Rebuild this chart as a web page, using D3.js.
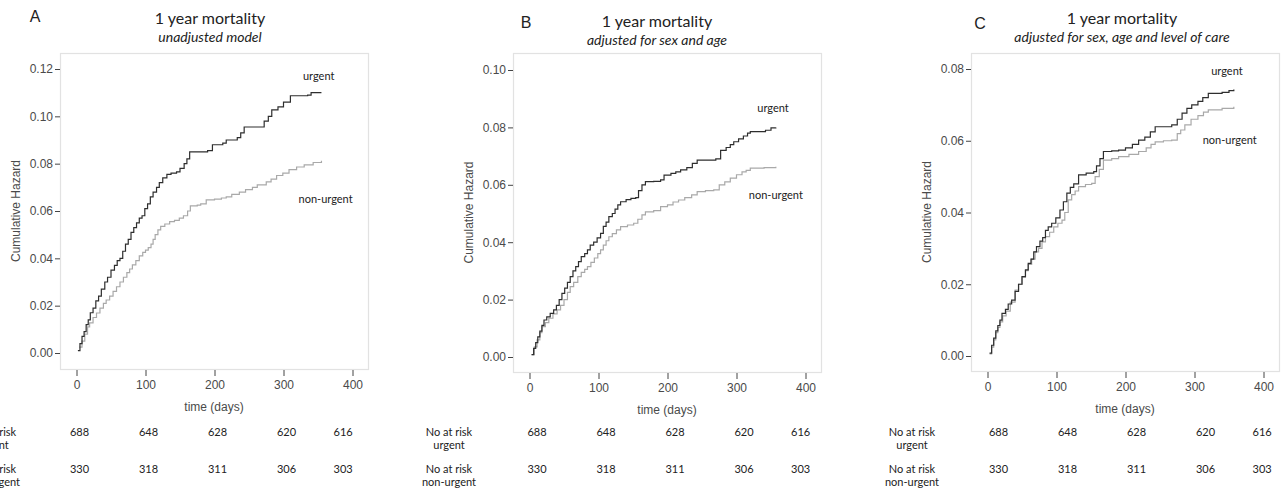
<!DOCTYPE html>
<html lang="en"><head>
<meta charset="utf-8">
<title>1 year mortality</title>
<script src="https://cdnjs.cloudflare.com/ajax/libs/d3/7.8.5/d3.min.js"></script>
<style>
  body { margin: 0; background: #fff; }
  .tick text { font-family: "Liberation Sans", Arial, sans-serif; font-size: 12px; fill: #4a4a4a; }
  .tick line { stroke: #444; }
  .cal { font-family: Lato, "Open Sans", sans-serif; fill: #222; }
</style>
</head>
<body>
<svg id="chart" width="1284" height="491"></svg>
<script>
// ---- data ----
var letters = ["A", "B", "C"];
var titles = ["1 year mortality", "1 year mortality", "1 year mortality"];
var subtitles = ["unadjusted model", "adjusted for sex and age", "adjusted for sex, age and level of care"];
var yMax = [0.12, 0.10, 0.08];
var xTicks = [0, 100, 200, 300, 400];
var riskDays = [0, 100, 200, 300, 382];
var riskUrgent = [688, 648, 628, 620, 616];
var riskNonUrgent = [330, 318, 311, 306, 303];

// cumulative hazard, [day, value]
var aUrgent = [[2,0.001],[5,0.004],[8,0.007],[11,0.009],[14,0.012],[17,0.014],[20,0.017],[24,0.019],[28,0.022],[32,0.024],
  [36,0.027],[41,0.030],[45,0.032],[50,0.035],[55,0.037],[59,0.039],[63,0.040],[67,0.043],[71,0.046],[75,0.048],[79,0.051],
  [83,0.053],[87,0.055],[91,0.057],[95,0.058],[99,0.061],[103,0.063],[107,0.066],[111,0.068],[116,0.070],[120,0.072],
  [125,0.074],[131,0.0755],[137,0.076],[145,0.0765],[150,0.078],[156,0.080],[160,0.082],[164,0.085],[190,0.0855],
  [197,0.088],[212,0.0887],[217,0.090],[233,0.091],[238,0.093],[243,0.0955],[268,0.0955],[272,0.098],[278,0.100],
  [283,0.1027],[292,0.104],[300,0.106],[310,0.1087],[335,0.109],[340,0.110],[355,0.110]];
var aNonUrgent = [[4,0.0025],[8,0.005],[12,0.008],[16,0.011],[19,0.0127],[24,0.015],[29,0.0169],[34,0.019],[39,0.021],
  [43,0.0224],[48,0.024],[53,0.026],[58,0.028],[63,0.030],[68,0.032],[73,0.034],[77,0.0355],[81,0.0372],[86,0.039],
  [91,0.041],[96,0.0425],[100,0.0435],[104,0.0445],[108,0.046],[111,0.048],[114,0.050],[118,0.052],[122,0.0535],
  [128,0.0545],[135,0.0555],[142,0.056],[149,0.057],[155,0.058],[161,0.060],[165,0.0622],[175,0.0625],[180,0.063],
  [188,0.0647],[200,0.065],[210,0.0655],[217,0.066],[225,0.067],[236,0.068],[245,0.069],[255,0.070],[262,0.071],
  [275,0.0723],[282,0.0735],[290,0.075],[299,0.076],[308,0.0775],[319,0.0786],[330,0.0795],[343,0.0805],[355,0.0812]];
var bUrgent = [[3,0.0008],[6,0.003],[9,0.005],[12,0.007],[15,0.009],[18,0.011],[21,0.0129],[25,0.014],[30,0.0152],
  [35,0.0164],[39,0.018],[43,0.020],[47,0.0222],[51,0.024],[55,0.026],[59,0.028],[63,0.030],[67,0.0315],[71,0.0332],
  [75,0.035],[80,0.036],[84,0.0373],[88,0.039],[93,0.040],[98,0.0415],[103,0.0431],[107,0.0455],[111,0.047],[115,0.0489],
  [120,0.050],[124,0.0515],[128,0.053],[132,0.0541],[140,0.0548],[147,0.0553],[154,0.0555],[158,0.058],[163,0.060],
  [168,0.0611],[180,0.0612],[190,0.0617],[195,0.0634],[205,0.064],[212,0.0645],[219,0.0652],[228,0.066],[236,0.0675],
  [243,0.0686],[270,0.069],[277,0.072],[285,0.073],[291,0.074],[296,0.075],[303,0.076],[310,0.077],[316,0.078],
  [320,0.0785],[342,0.079],[350,0.0798],[357,0.0800]];
var bNonUrgent = [[3,0.0008],[7,0.0035],[11,0.006],[15,0.0085],[18,0.0106],[23,0.012],[28,0.0135],[34,0.015],[40,0.0164],
  [45,0.018],[50,0.020],[55,0.0225],[59,0.0245],[64,0.026],[70,0.028],[75,0.0295],[80,0.0305],[84,0.0315],[89,0.033],
  [94,0.0345],[99,0.036],[103,0.0373],[107,0.039],[111,0.0405],[115,0.0419],[120,0.043],[126,0.0443],[132,0.0454],
  [142,0.046],[151,0.0466],[157,0.048],[163,0.0495],[168,0.0506],[180,0.051],[190,0.0524],[200,0.053],[208,0.054],
  [216,0.0547],[225,0.0555],[235,0.0565],[243,0.0576],[255,0.058],[267,0.0582],[275,0.060],[283,0.061],[291,0.0623],
  [300,0.0635],[308,0.0645],[314,0.065],[320,0.0658],[340,0.066],[357,0.0663]];
var cUrgent = [[3,0.0008],[6,0.003],[9,0.005],[12,0.007],[15,0.0085],[18,0.010],[21,0.0119],[26,0.013],[30,0.0145],
  [35,0.0156],[40,0.018],[45,0.020],[50,0.0221],[55,0.024],[59,0.0258],[63,0.027],[67,0.029],[71,0.0305],[76,0.032],
  [80,0.033],[84,0.035],[88,0.036],[93,0.037],[99,0.0385],[105,0.0407],[110,0.043],[115,0.0454],[120,0.047],[125,0.048],
  [132,0.0505],[143,0.051],[154,0.0514],[158,0.053],[163,0.055],[168,0.057],[180,0.0572],[190,0.0574],[200,0.058],
  [210,0.059],[219,0.0602],[228,0.061],[236,0.0625],[243,0.0639],[267,0.0644],[275,0.066],[282,0.0677],[289,0.069],
  [296,0.070],[305,0.071],[312,0.072],[320,0.0732],[340,0.0735],[350,0.074],[357,0.0743]];
var cNonUrgent = [[3,0.0006],[6,0.0025],[9,0.0045],[12,0.0065],[15,0.008],[18,0.0095],[22,0.0112],[27,0.0125],[33,0.015],
  [40,0.0184],[45,0.020],[50,0.022],[55,0.0238],[59,0.0255],[64,0.027],[69,0.029],[74,0.030],[79,0.0318],[84,0.0333],
  [90,0.0345],[96,0.036],[102,0.037],[108,0.0379],[112,0.040],[117,0.0435],[122,0.045],[127,0.046],[132,0.0472],
  [142,0.0478],[151,0.0481],[156,0.050],[162,0.052],[168,0.0546],[180,0.055],[190,0.0556],[205,0.0562],[219,0.057],
  [230,0.058],[237,0.059],[243,0.0597],[255,0.060],[267,0.0602],[275,0.062],[280,0.063],[286,0.0644],[295,0.066],
  [305,0.067],[313,0.068],[320,0.0686],[340,0.069],[357,0.0695]];

var urgentSeries = [aUrgent, bUrgent, cUrgent];
var nonUrgentSeries = [aNonUrgent, bNonUrgent, cNonUrgent];

// ---- layout per panel ----
var layout = [
  {left: 60,  bottom: 369, y0: 353, yTop: 69, titleX: 210,  titleY: 18, letterX: 35,  letterY: 16, riskLabelX: -67, riskShift: 3,
   urgentAt: [351, 0.117], nonUrgentAt: [361, 0.065]},
  {left: 513, bottom: 372, y0: 357, yTop: 70, titleX: 657,  titleY: 21, letterX: 526, letterY: 22, riskLabelX: -64, riskShift: 7.5,
   urgentAt: [353, 0.0868], nonUrgentAt: [357, 0.0564]},
  {left: 971, bottom: 371, y0: 356, yTop: 69, titleX: 1122, titleY: 18, letterX: 980, letterY: 23, riskLabelX: -59, riskShift: 11,
   urgentAt: [347, 0.0795], nonUrgentAt: [351, 0.0602]}
];
var frameTop = 53, frameW = 308;

var svg = d3.select("#chart");

layout.forEach(function(L, i) {
  var g = svg.append("g").attr("transform", "translate(" + L.left + ",0)");
  var x = d3.scaleLinear().domain([0, 400]).range([16.5, 292.5]);
  var y = d3.scaleLinear().domain([0, yMax[i]]).range([L.y0, L.yTop]);

  // frame
  g.append("rect")
    .attr("x", 0.5).attr("y", frameTop + 0.5)
    .attr("width", frameW).attr("height", L.bottom - frameTop)
    .attr("fill", "none").attr("stroke", "#e2e2e2").attr("stroke-width", 1.2);

  // y axis
  var ya = g.append("g")
    .call(d3.axisLeft(y).tickValues(d3.range(0, yMax[i] + 1e-9, 0.02)).tickFormat(d3.format(".2f")).tickSize(5).tickPadding(2));
  ya.select(".domain").remove();

  // x axis, ticks hang below the frame
  var xa = g.append("g").attr("transform", "translate(0," + (L.bottom + 1) + ")")
    .call(d3.axisBottom(x).tickValues(xTicks).tickSize(6).tickPadding(4));
  xa.select(".domain").remove();

  g.append("text")
    .attr("x", frameW / 2).attr("y", L.bottom + 42)
    .attr("text-anchor", "middle")
    .style("font-family", "'Liberation Sans', Arial, sans-serif").style("font-size", "12px").style("fill", "#4a4a4a")
    .text("time (days)");

  g.append("text")
    .attr("transform", "translate(-40," + ((frameTop + L.bottom) / 2) + ") rotate(-90)")
    .attr("text-anchor", "middle")
    .style("font-family", "'Liberation Sans', Arial, sans-serif").style("font-size", "12px").style("fill", "#4a4a4a")
    .text("Cumulative Hazard");

  // curves
  var line = d3.line().curve(d3.curveStepAfter)
    .x(function(d) { return x(d[0]); })
    .y(function(d) { return y(d[1]); });

  g.append("path").datum(nonUrgentSeries[i])
    .attr("d", line).attr("fill", "none").attr("stroke", "#a9a9a9").attr("stroke-width", 1.2);
  g.append("path").datum(urgentSeries[i])
    .attr("d", line).attr("fill", "none").attr("stroke", "#2e2e2e").attr("stroke-width", 1.2);

  g.append("text").attr("class", "cal")
    .attr("x", x(L.urgentAt[0])).attr("y", y(L.urgentAt[1])).attr("dy", "0.35em")
    .attr("text-anchor", "middle").style("font-size", "11px").text("urgent");
  g.append("text").attr("class", "cal")
    .attr("x", x(L.nonUrgentAt[0])).attr("y", y(L.nonUrgentAt[1])).attr("dy", "0.35em")
    .attr("text-anchor", "middle").style("font-size", "11px").text("non-urgent");

  // risk table
  var rows = [{vals: riskUrgent, y: 436, l1: "No at risk", l2: "urgent"},
              {vals: riskNonUrgent, y: 473, l1: "No at risk", l2: "non-urgent"}];
  rows.forEach(function(r) {
    g.selectAll(null).data(r.vals).enter().append("text").attr("class", "cal")
      .attr("x", function(d, k) { return x(riskDays[k]) + L.riskShift; })
      .attr("y", r.y).attr("text-anchor", "middle").style("font-size", "11px")
      .text(function(d) { return d; });
    g.append("text").attr("class", "cal").attr("x", L.riskLabelX).attr("y", r.y)
      .attr("text-anchor", "middle").style("font-size", "11px").text(r.l1);
    g.append("text").attr("class", "cal").attr("x", L.riskLabelX).attr("y", r.y + 13)
      .attr("text-anchor", "middle").style("font-size", "11px").text(r.l2);
  });

  // titles
  svg.append("text").attr("class", "cal")
    .attr("x", L.titleX).attr("y", L.titleY).attr("dy", "0.35em")
    .attr("text-anchor", "middle").style("font-size", "16px").text(titles[i]);
  svg.append("text").attr("class", "cal")
    .attr("x", L.titleX).attr("y", L.titleY + 19).attr("dy", "0.35em")
    .attr("text-anchor", "middle").style("font-size", "14px").style("font-style", "italic").text(subtitles[i]);
  svg.append("text")
    .attr("x", L.letterX).attr("y", L.letterY).attr("dy", "0.35em")
    .attr("text-anchor", "middle")
    .style("font-family", "'Liberation Sans', Arial, sans-serif").style("font-size", "16px").style("fill", "#222")
    .text(letters[i]);
});
</script>
</body></html>
